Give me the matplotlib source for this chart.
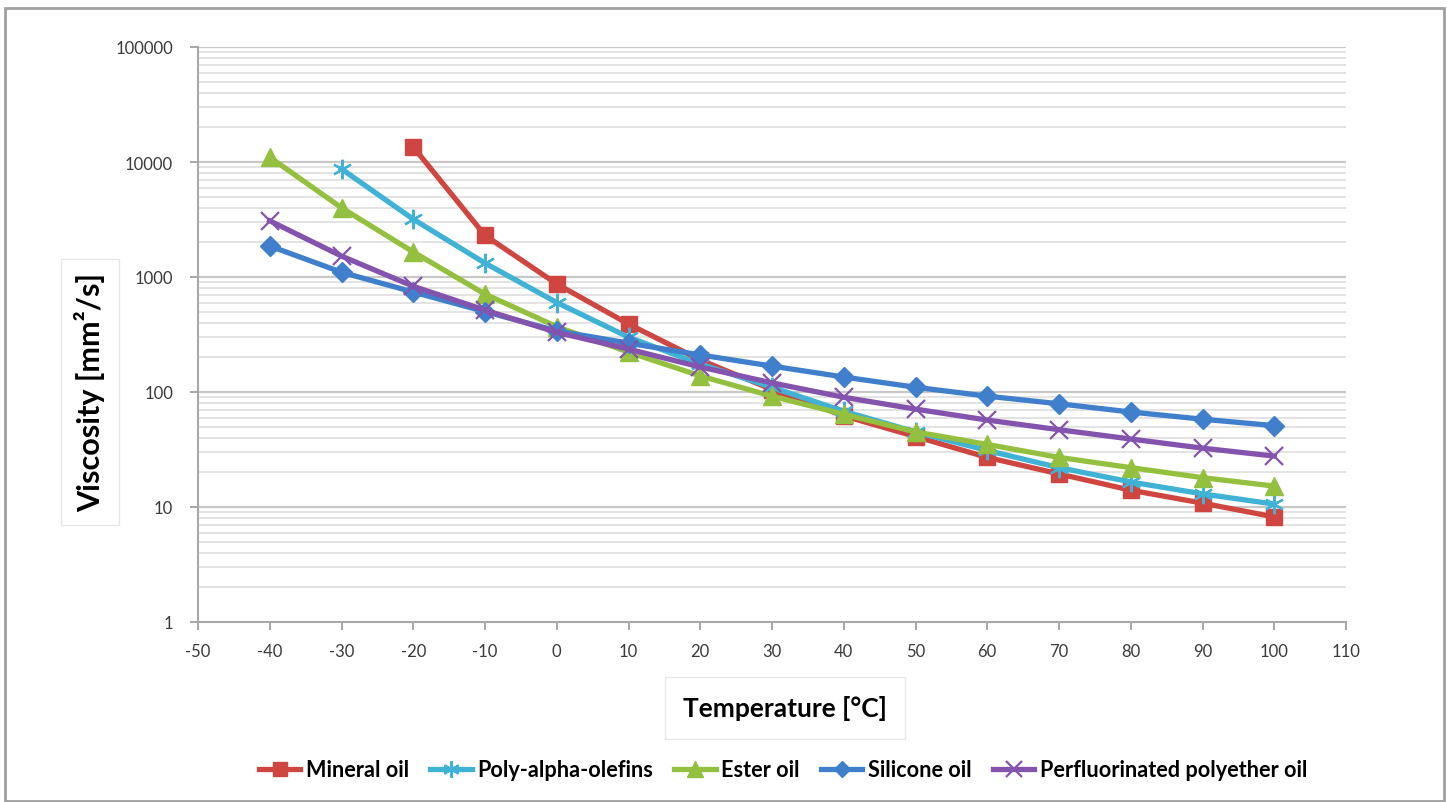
import matplotlib
matplotlib.use("Agg")
import matplotlib.pyplot as plt
from matplotlib.patches import Rectangle
from matplotlib.ticker import FixedLocator, NullFormatter

temps = [-40, -30, -20, -10, 0, 10, 20, 30, 40, 50, 60, 70, 80, 90, 100]

mineral_t = [-20, -10, 0, 10, 20, 30, 40, 50, 60, 70, 80, 90, 100]
mineral = [13500, 2300, 870, 390, 190, 105, 62, 41, 27, 19.4, 14, 10.8, 8.2]

pao_t = [-30, -20, -10, 0, 10, 20, 30, 40, 50, 60, 70, 80, 90, 100]
pao = [8700, 3180, 1320, 600, 300, 175, 110, 68, 45, 31, 22, 16.5, 13, 10.6]

ester = [11000, 4000, 1650, 710, 370, 222, 138, 92, 64, 45, 35, 27, 22, 18, 15.2]
silicone = [1860, 1100, 740, 500, 340, 266, 210, 168, 135, 110, 92, 79, 67, 58, 51]
pfpe = [3080, 1520, 830, 515, 330, 236, 165, 120, 90, 71, 57, 47, 39, 32.5, 27.7]

series_names = ["Mineral oil", "Poly-alpha-olefins", "Ester oil", "Silicone oil",
                "Perfluorinated polyether oil"]
colors = ["#CF4640", "#3FB2D6", "#93C13F", "#3F7FCB", "#8453AD"]

x_ticks = list(range(-50, 111, 10))
y_ticks = [1, 10, 100, 1000, 10000, 100000]
y_tick_labels = ["1", "10", "100", "1000", "10000", "100000"]

W, H = 1447, 803
fig = plt.figure(figsize=(W / 100, H / 100), dpi=100)
fig.patch.set_facecolor("white")

ax = fig.add_axes([198 / W, 1 - 623 / H, (1346 - 198) / W, (623 - 48) / H])
ax.set_yscale("log")
ax.set_xlim(-50, 110)
ax.set_ylim(1, 100000)

# gridlines
minor_vals = [m * 10 ** e for e in range(0, 5) for m in range(2, 10)]
for v in minor_vals:
    ax.axhline(v, color="#e0e0e0", lw=1.3, zorder=0)
for v in y_ticks[1:]:
    ax.axhline(v, color="#c8c8c8", lw=1.6, zorder=0)

lw = 3.8
ax.plot(mineral_t, mineral, color=colors[0], lw=lw, marker="s", ms=12,
        label=series_names[0], zorder=3)
ax.plot(pao_t, pao, color=colors[1], lw=lw, marker=(6, 2, 0), ms=14, mew=1.6,
        label=series_names[1], zorder=3)
ax.plot(temps, ester, color=colors[2], lw=lw, marker="^", ms=13,
        label=series_names[2], zorder=3)
ax.plot(temps, silicone, color=colors[3], lw=lw, marker="D", ms=10,
        label=series_names[3], zorder=3)
ax.plot(temps, pfpe, color=colors[4], lw=lw, marker="x", ms=13, mew=1.6,
        label=series_names[4], zorder=3)

tick_font = dict(family="Lato", size=12)
ax.xaxis.set_major_locator(FixedLocator(x_ticks))
ax.set_xticklabels([str(t) for t in x_ticks], fontdict=tick_font)
ax.yaxis.set_major_locator(FixedLocator(y_ticks))
ax.yaxis.set_minor_formatter(NullFormatter())
ax.yaxis.set_minor_locator(FixedLocator([]))
ax.set_yticklabels(y_tick_labels, fontdict=tick_font)
ax.tick_params(axis="both", colors="#a0a0a0", labelcolor="#3a3a3a", length=6,
               width=1.3, direction="out")
ax.tick_params(axis="x", pad=9)
ax.tick_params(axis="y", pad=12)

for s in ["top", "right"]:
    ax.spines[s].set_visible(False)
for s in ["left", "bottom"]:
    ax.spines[s].set_color("#a8a8a8")
    ax.spines[s].set_linewidth(1.5)

box_y = dict(boxstyle="square,pad=0.45", facecolor="white", edgecolor="#e6e6e6", lw=1)
box_x = dict(boxstyle="square,pad=0.7", facecolor="white", edgecolor="#e6e6e6", lw=1)
fig.text(90 / W, 1 - 393 / H, "Viscosity [mm²/s]", rotation=90, ha="center",
         va="center", fontsize=22, fontweight="bold", family="Lato", color="black",
         bbox=box_y)
fig.text(785 / W, 1 - 709 / H, "Temperature [°C]", ha="center", va="center",
         fontsize=19, fontweight="bold", family="Lato", color="black", bbox=box_x)

handles, labels = ax.get_legend_handles_labels()
fig.legend(handles, labels, loc="center", bbox_to_anchor=(783 / W, 1 - 771 / H),
           ncol=5, frameon=False, prop=dict(family="Lato", weight="bold", size=15.6),
           handlelength=1.9, handletextpad=0.25, columnspacing=1.0, markerscale=0.85)

fig.add_artist(Rectangle((5 / W, 0.001), (1444 - 5) / W, 1 - 9 / H - 0.001,
                         transform=fig.transFigure, fill=False,
                         edgecolor="#a0a0a0", lw=2))

fig.savefig("out.png", dpi=100, facecolor="white")
